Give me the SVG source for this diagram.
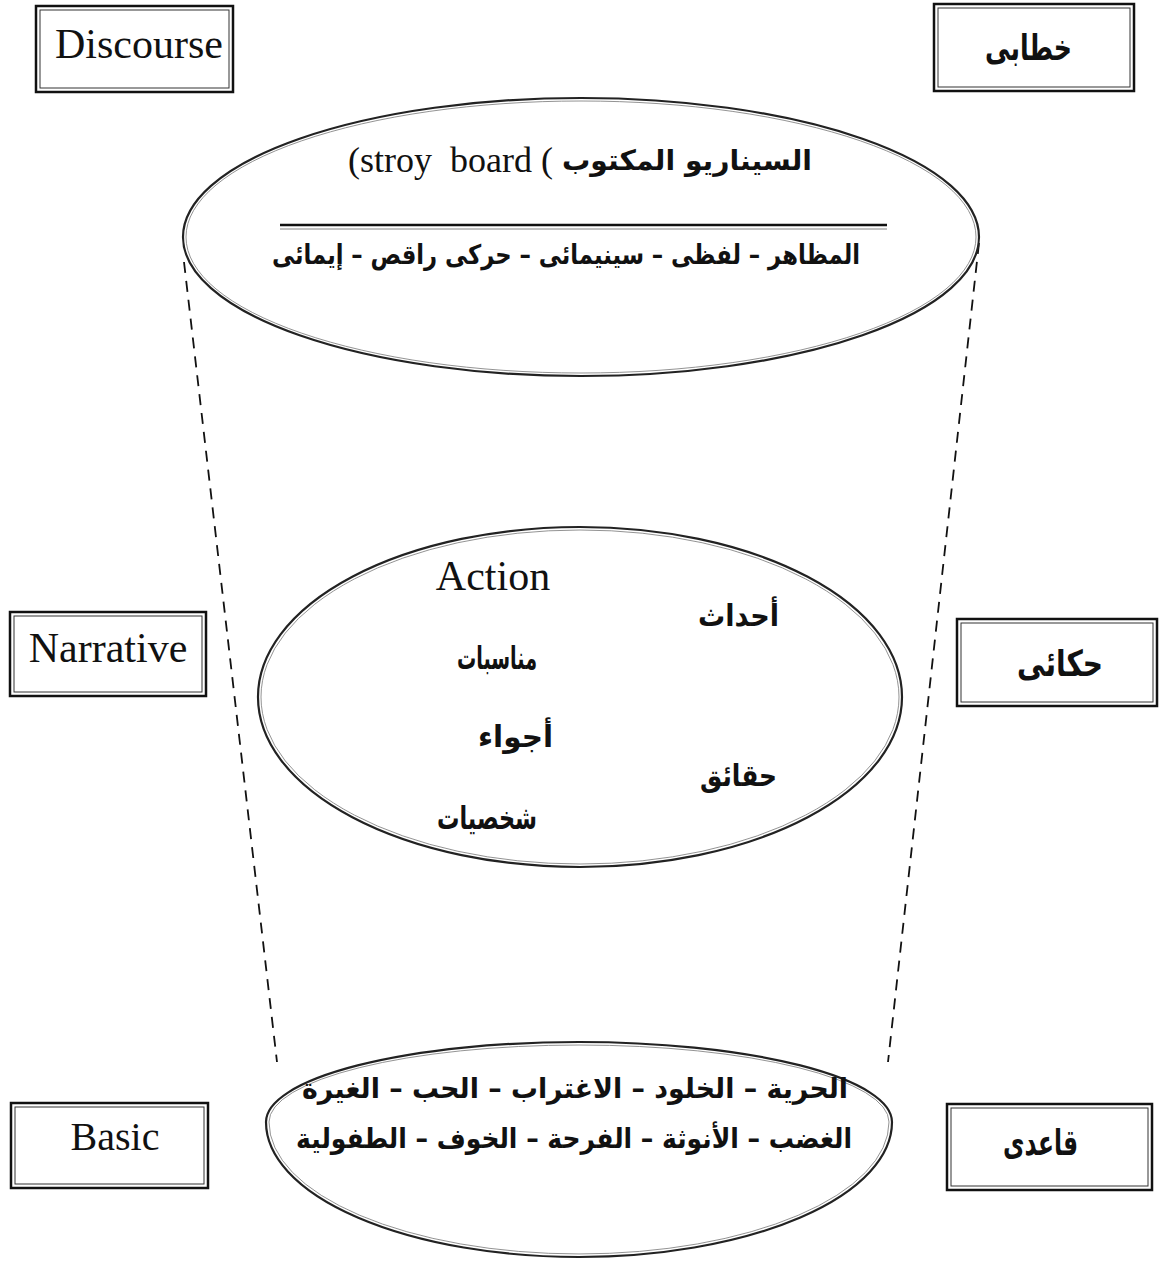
<svg xmlns="http://www.w3.org/2000/svg" width="1160" height="1264" viewBox="0 0 1160 1264">
<style>
.bg{fill:#fff}
.outer{fill:#fff;stroke:#111;stroke-width:2.5}
.inner{fill:none;stroke:#333;stroke-width:1}
.ell{fill:#fff;stroke:#222;stroke-width:2.2}
.ell2{fill:none;stroke:#777;stroke-width:0.8}
.dash{stroke:#111;stroke-width:1.8;stroke-dasharray:11 8;fill:none}
.en{font-family:"Liberation Serif","DejaVu Serif",serif;fill:#111}
.ar{font-family:"DejaVu Sans",sans-serif;font-weight:bold;fill:#111}
</style>
<rect class="bg" x="0" y="0" width="1160" height="1264"/>
<g id="connectors">
<line class="dash" x1="184" y1="262" x2="277" y2="1062"/>
<line class="dash" x1="979" y1="243" x2="888" y2="1062"/>
</g>
<g id="discourse-box">
<rect class="outer" x="36" y="6" width="197" height="86"/>
<rect class="inner" x="40" y="10" width="189" height="78"/>
<text class="en" x="139" y="58" font-size="42" text-anchor="middle">Discourse</text>
</g>
<g id="khitabi-box">
<rect class="outer" x="934" y="4" width="200" height="87"/>
<rect class="inner" x="938" y="8" width="192" height="79"/>
<text class="ar" x="1072" y="60" font-size="36" text-anchor="end" textLength="87" lengthAdjust="spacingAndGlyphs">خطابى</text>
</g>
<g id="top-ellipse">
<ellipse class="ell" cx="581" cy="237" rx="398" ry="139"/>
<ellipse class="ell2" cx="581" cy="237" rx="395" ry="136"/>
<text class="en" x="348" y="172" font-size="36" xml:space="preserve">(stroy  board (</text>
<text class="ar" x="812" y="170" font-size="28" text-anchor="end" textLength="250" lengthAdjust="spacingAndGlyphs">السيناريو المكتوب</text>
<line x1="280" y1="225" x2="887" y2="225" stroke="#111" stroke-width="2.5"/>
<line x1="280" y1="229" x2="887" y2="229" stroke="#666" stroke-width="0.8"/>
<text class="ar" x="860" y="264" font-size="27" text-anchor="end" textLength="588" lengthAdjust="spacingAndGlyphs">المظاهر – لفظى – سينيمائى – حركى راقص – إيمائى</text>
</g>
<g id="narrative-box">
<rect class="outer" x="10" y="612" width="196" height="84"/>
<rect class="inner" x="14" y="616" width="188" height="76"/>
<text class="en" x="108" y="662" font-size="42" text-anchor="middle">Narrative</text>
</g>
<g id="hikai-box">
<rect class="outer" x="957" y="619" width="200" height="87"/>
<rect class="inner" x="961" y="623" width="192" height="79"/>
<text class="ar" x="1103" y="676" font-size="36" text-anchor="end" textLength="86" lengthAdjust="spacingAndGlyphs">حكائى</text>
</g>
<g id="middle-ellipse">
<ellipse class="ell" cx="580" cy="697" rx="322" ry="170"/>
<ellipse class="ell2" cx="580" cy="697" rx="319" ry="167"/>
<text class="en" x="493" y="590" font-size="42" text-anchor="middle">Action</text>
<text class="ar" x="779" y="626" font-size="30" text-anchor="end" textLength="81" lengthAdjust="spacingAndGlyphs">أحداث</text>
<text class="ar" x="537" y="669" font-size="32" text-anchor="end" textLength="80" lengthAdjust="spacingAndGlyphs">مناسبات</text>
<text class="ar" x="553" y="747" font-size="30" text-anchor="end" textLength="75" lengthAdjust="spacingAndGlyphs">أجواء</text>
<text class="ar" x="777" y="786" font-size="30" text-anchor="end" textLength="77" lengthAdjust="spacingAndGlyphs">حقائق</text>
<text class="ar" x="537" y="829" font-size="32" text-anchor="end" textLength="100" lengthAdjust="spacingAndGlyphs">شخصيات</text>
</g>
<g id="basic-box">
<rect class="outer" x="11" y="1103" width="197" height="85"/>
<rect class="inner" x="15" y="1107" width="189" height="77"/>
<text class="en" x="115" y="1150" font-size="40" text-anchor="middle">Basic</text>
</g>
<g id="qaidi-box">
<rect class="outer" x="947" y="1104" width="205" height="86"/>
<rect class="inner" x="951" y="1108" width="197" height="78"/>
<text class="ar" x="1078" y="1155" font-size="36" text-anchor="end" textLength="75" lengthAdjust="spacingAndGlyphs">قاعدى</text>
</g>
<g id="bottom-ellipse">
<path class="ell" d="M 266 1122 A 313 80 0 0 1 892 1122 A 313 135 0 0 1 266 1122 Z"/>
<path class="ell2" d="M 269 1122 A 310 77 0 0 1 889 1122 A 310 132 0 0 1 269 1122 Z"/>
<text class="ar" x="848" y="1098" font-size="28" text-anchor="end" textLength="546" lengthAdjust="spacingAndGlyphs">الحرية – الخلود – الاغتراب – الحب – الغيرة</text>
<text class="ar" x="852" y="1148" font-size="28" text-anchor="end" textLength="556" lengthAdjust="spacingAndGlyphs">الغضب – الأنوثة – الفرحة – الخوف – الطفولية</text>
</g>
</svg>
